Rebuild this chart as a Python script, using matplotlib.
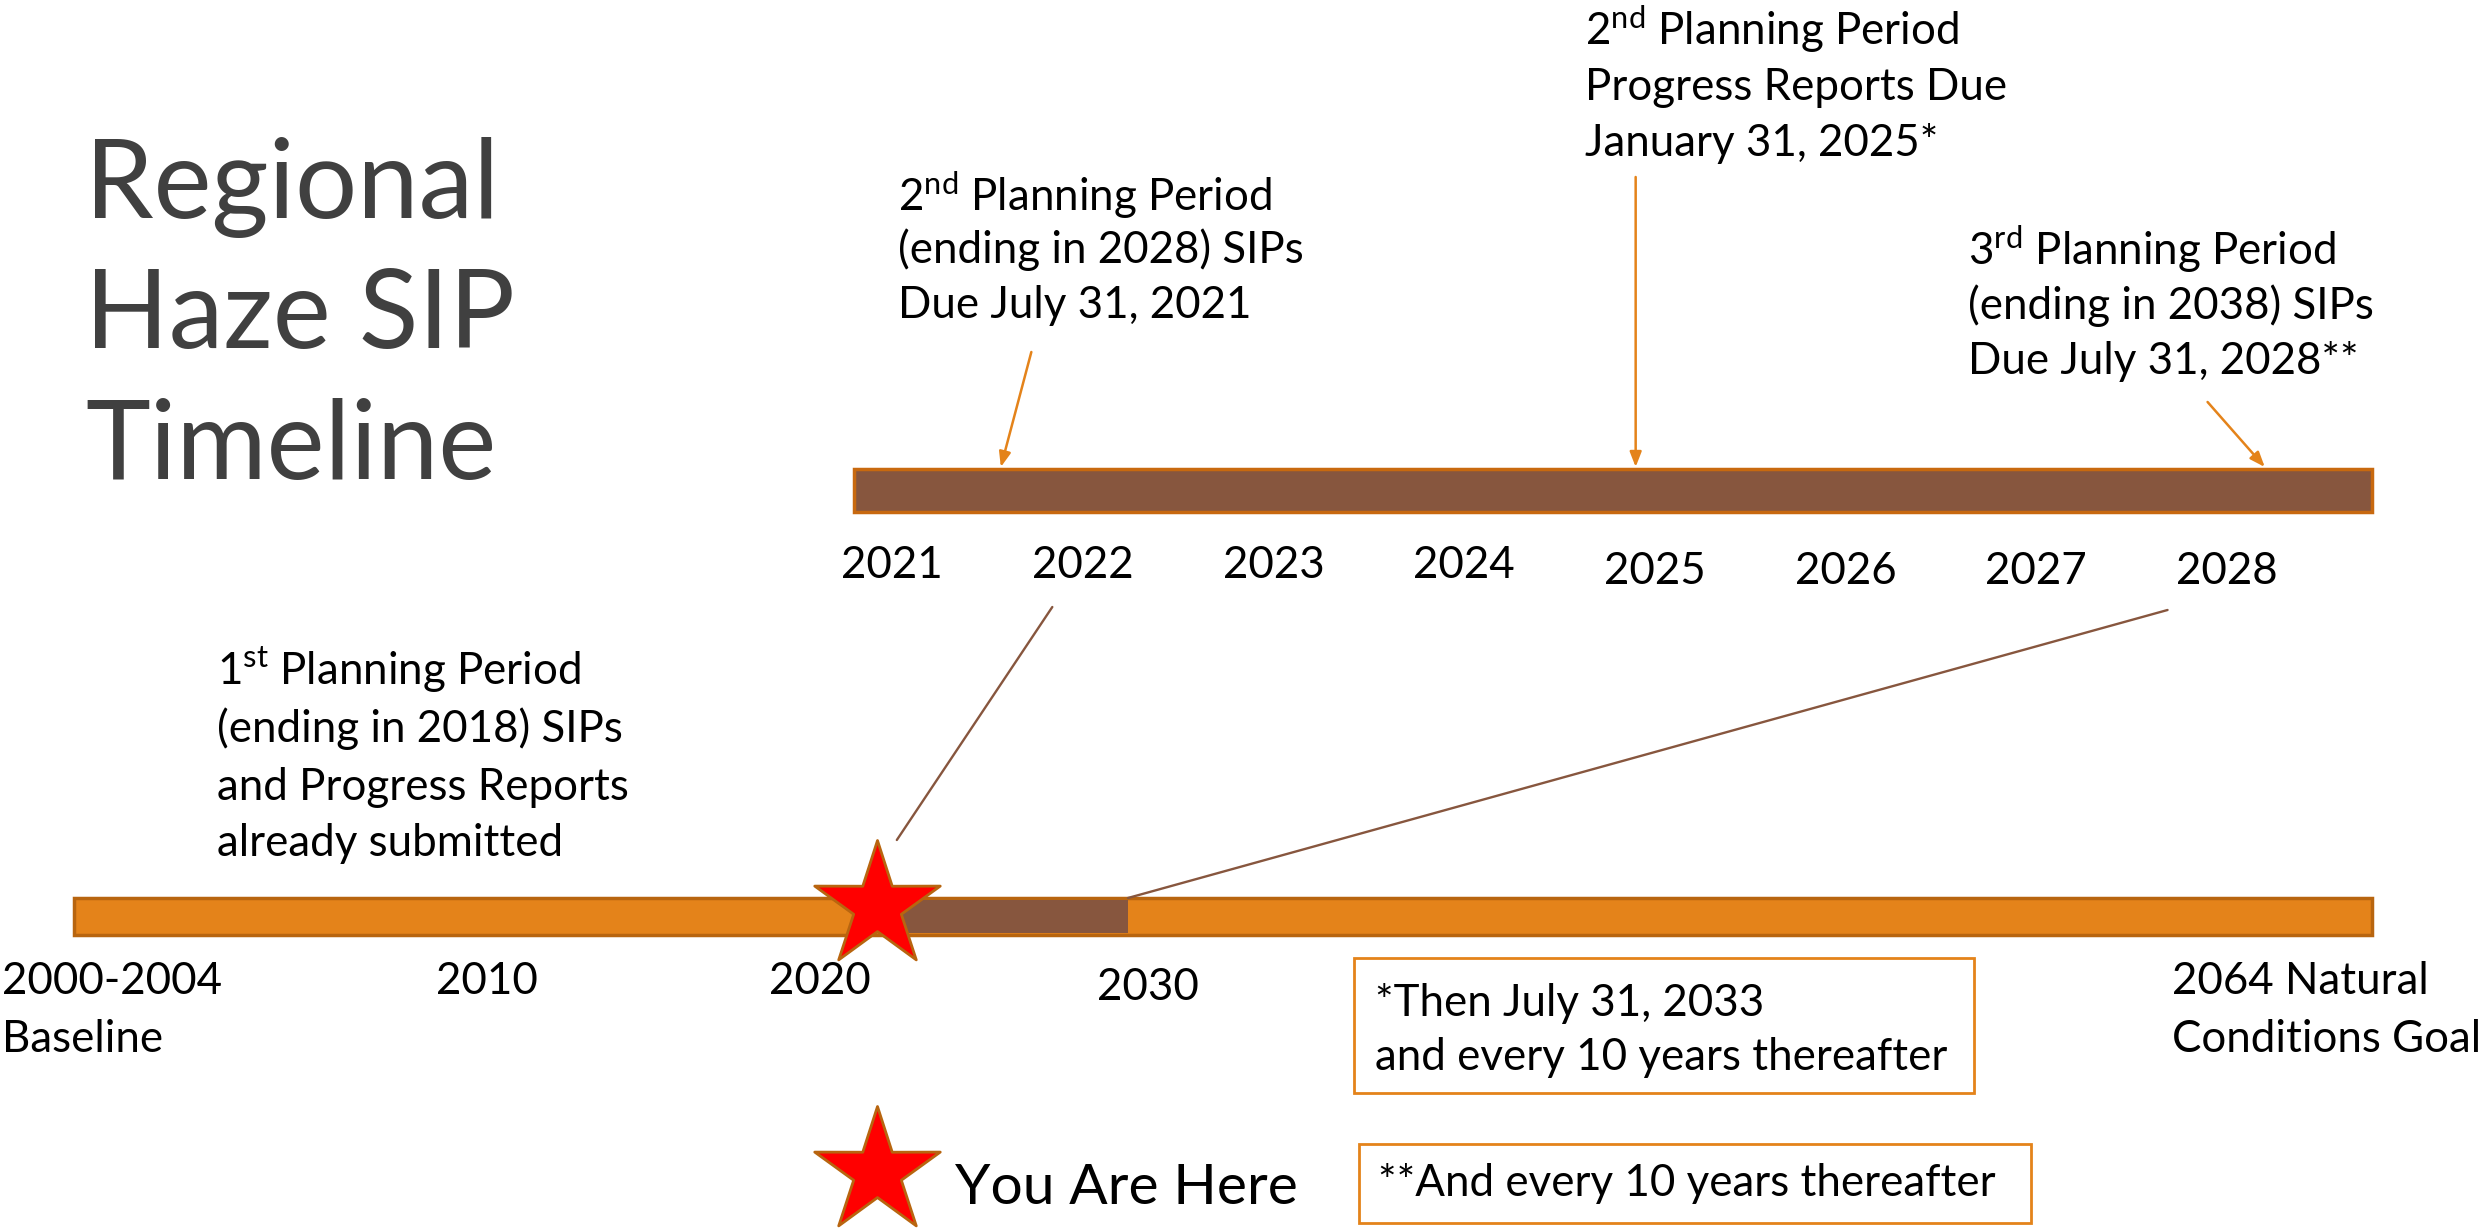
import numpy as np
import matplotlib.pyplot as plt
from matplotlib.path import Path
from matplotlib.patches import Rectangle, ConnectionPatch

plt.rcParams['font.family'] = ['Lato', 'DejaVu Sans']
plt.rcParams['mathtext.fontset'] = 'custom'
plt.rcParams['mathtext.rm'] = 'Lato'

ORANGE = '#E4831A'
ORANGE_EDGE = '#B8650F'
BROWN = '#87563E'

# long timeline (bottom), in years
bar_span = (1997.6, 2066.6)
current_period = (2021.0, 2029.25)
you_are_here = 2021.7
bottom_labels = ['2000-2004\nBaseline', '2010', '2020', '2030', '2064 Natural\nConditions Goal']
bottom_label_x = [1995.45, 2010, 2020, 2029.85, 2060.6]
bottom_label_ha = ['left', 'center', 'center', 'center', 'left']

# zoomed timeline (top), in years
top_span = (2020.8, 2028.76)
top_years = [2021, 2022, 2023, 2024, 2025, 2026, 2027, 2028]
# deadline arrows: (tail year, tail y, head year)
arrow_tail_x = [2021.73, 2024.9, 2027.9]
arrow_head_x = [2021.57, 2024.9, 2028.2]
arrow_tail_y = [352, 177, 402]

fig = plt.figure(figsize=(24.84, 12.28), dpi=100)
ax_bot = fig.add_axes([0, 0, 1, 1])
ax_top = fig.add_axes([0, 0, 1, 1])
ax_top.patch.set_alpha(0)
ax_bot.set_xlim(1995.38, 2069.97)
ax_top.set_xlim(2016.32, 2029.35)
for ax in (ax_bot, ax_top):
    ax.set_ylim(1228, 0)
    ax.set_axis_off()

FS = 31.6


def lines(ax, x, ys, texts, fontsize=FS, **kw):
    for y, t in zip(ys, texts):
        ax.text(x, y, t, va='center', fontsize=fontsize, **kw)


# title
lines(ax_bot, 1995.38 + 85 / 33.3, [187, 317, 448], ['Regional', 'Haze SIP', 'Timeline'],
      fontsize=79, color='#404040')

# bottom bar
ax_bot.add_patch(Rectangle((bar_span[0], 898), bar_span[1] - bar_span[0], 37,
                           facecolor=ORANGE, edgecolor=ORANGE_EDGE, linewidth=2.5, zorder=2))
ax_bot.add_patch(Rectangle((current_period[0], 900), current_period[1] - current_period[0], 33,
                           facecolor=BROWN, edgecolor='none', zorder=3))

# star marker
t = np.linspace(0, 2 * np.pi, 11)[:-1] + np.pi / 2
r = np.where(np.arange(10) % 2 == 0, 1.0, 0.38)
star = Path(np.column_stack([r * np.cos(t), r * np.sin(t)]).tolist() + [[0, 1]], closed=True)
ax_bot.scatter([you_are_here], [906], marker=star, s=95 ** 2, facecolor='#FF0000',
               edgecolor=ORANGE_EDGE, linewidth=2, zorder=5)

for lab, x, ha in zip(bottom_labels, bottom_label_x, bottom_label_ha):
    parts = lab.split('\n')
    y0 = 988 if lab == '2030' else 982
    lines(ax_bot, x, [y0 + 58 * i for i in range(len(parts))], parts, ha=ha, color='black')

lines(ax_bot, 1995.38 + 217 / 33.3, [670, 729, 787, 843],
      ['1$^{\\mathrm{st}}$ Planning Period', '(ending in 2018) SIPs',
       'and Progress Reports', 'already submitted'], color='black')

# top bar
ax_top.add_patch(Rectangle((top_span[0], 469), top_span[1] - top_span[0], 43,
                           facecolor=BROWN, edgecolor='#C8690F', linewidth=2.5, zorder=2))
for i, yr in enumerate(top_years):
    ax_top.text(yr, 566 if i < 4 else 571, str(yr), ha='center', va='center', fontsize=FS)

for tx, ty, hx in zip(arrow_tail_x, arrow_tail_y, arrow_head_x):
    ax_top.annotate('', xy=(hx, 467), xytext=(tx, ty),
                    arrowprops=dict(arrowstyle='-|>,head_length=0.9,head_width=0.35',
                                    color=ORANGE, lw=1.8, shrinkA=0, shrinkB=0))

x0_top = 2016.32
lines(ax_top, x0_top + 898 / 190.7, [195, 250, 306],
      ['2$^{\\mathrm{nd}}$ Planning Period', '(ending in 2028) SIPs', 'Due July 31, 2021'])
lines(ax_top, x0_top + 1586 / 190.7, [29, 87, 144],
      ['2$^{\\mathrm{nd}}$ Planning Period', 'Progress Reports Due', 'January 31, 2025*'])
lines(ax_top, x0_top + 1969 / 190.7, [249, 306, 361],
      ['3$^{\\mathrm{rd}}$ Planning Period', '(ending in 2038) SIPs', 'Due July 31, 2028**'])

# connector lines from long timeline to zoomed timeline
for (xa, ya), (xb, yb) in [((2022.31, 840), (2021.84, 607)), ((current_period[1], 898), (2027.69, 610))]:
    fig.add_artist(ConnectionPatch((xa, ya), (xb, yb), coordsA=ax_bot.transData,
                                   coordsB=ax_top.transData, color=BROWN, lw=1.7))

# footnote boxes
ax_bot.add_patch(Rectangle((1995.38 + 1354 / 33.3, 958), 620 / 33.3, 135,
                           facecolor='white', edgecolor=ORANGE, linewidth=2))
lines(ax_bot, 1995.38 + 1375 / 33.3, [1003, 1057],
      ['*Then July 31, 2033', 'and every 10 years thereafter'], color='black')
ax_bot.add_patch(Rectangle((1995.38 + 1359 / 33.3, 1144), 672 / 33.3, 79,
                           facecolor='white', edgecolor=ORANGE, linewidth=2))
lines(ax_bot, 1995.38 + 1378 / 33.3, [1183], ['**And every 10 years thereafter'], color='black')

# legend
ax_bot.scatter([you_are_here], [1172], marker=star, s=95 ** 2, facecolor='#FF0000',
               edgecolor=ORANGE_EDGE, linewidth=2, zorder=5)
lines(ax_bot, 1995.38 + 955 / 33.3, [1188], ['You Are Here'], fontsize=41, color='black')

fig.savefig('out.png', dpi=100)
